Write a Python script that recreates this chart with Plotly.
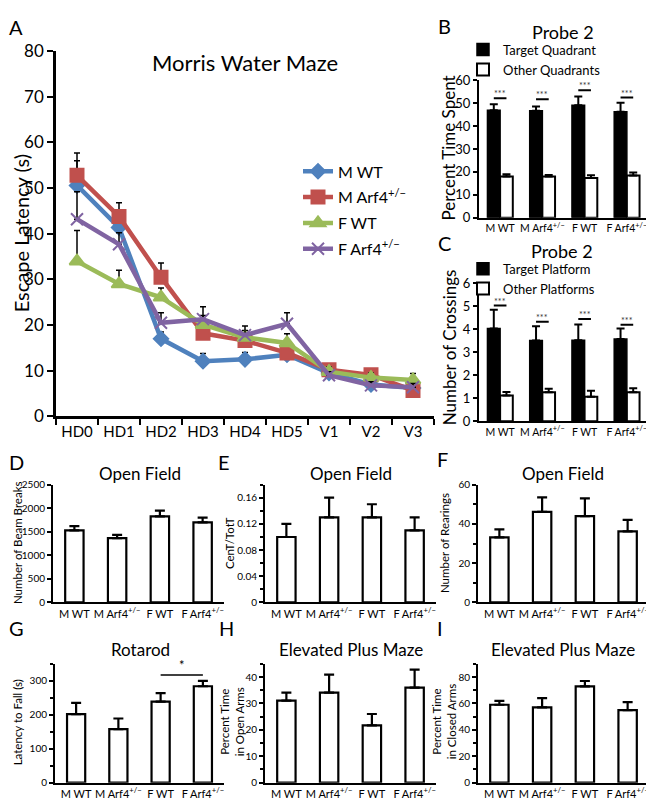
import plotly.graph_objects as go

# ---------------- data ----------------
days = ["HD0", "HD1", "HD2", "HD3", "HD4", "HD5", "V1", "V2", "V3"]
mwt = [50.6, 41.4, 17.0, 12.1, 12.5, 13.5, 9.5, 7.0, 6.2]
mwt_err = [5.4, 2.5, 1.5, 1.7, 1.5, 1.0, 1.0, 0.8, 0.8]
marf = [52.8, 43.8, 30.5, 18.2, 16.6, 13.9, 10.2, 9.1, 5.7]
marf_err = [4.9, 3.0, 3.1, 1.5, 1.5, 1.5, 1.0, 1.0, 0.8]
fwt = [34.0, 29.0, 26.1, 20.1, 17.3, 16.1, 9.8, 8.5, 8.0]
fwt_err = [6.7, 3.0, 2.0, 2.0, 1.5, 2.0, 1.0, 1.0, 1.4]
farf = [43.2, 37.7, 20.5, 21.3, 17.8, 20.3, 9.0, 6.8, 6.4]
farf_err = [6.0, 2.5, 2.2, 2.7, 2.0, 2.4, 0.8, 0.8, 0.8]
line_names = ["M WT", "M Arf4<sup>+/−</sup>", "F WT", "F Arf4<sup>+/−</sup>"]

groups = ["M WT", "M Arf4<sup>+/−</sup>", "F WT", "F Arf4<sup>+/−</sup>"]

b_target = [47.0, 46.7, 49.1, 46.3]
b_target_err = [2.6, 1.9, 3.9, 3.9]
b_other = [18.0, 18.0, 17.3, 18.4]
b_other_err = [1.0, 0.7, 1.2, 1.3]
b_sig = [52.2, 51.8, 55.7, 52.5]

c_target = [4.03, 3.50, 3.52, 3.57]
c_target_err = [0.81, 0.62, 0.68, 0.46]
c_other = [1.12, 1.26, 1.06, 1.26]
c_other_err = [0.15, 0.15, 0.27, 0.17]
c_sig = [5.02, 4.32, 4.44, 4.19]

d_vals = [1530, 1365, 1825, 1697]
d_err = [90, 68, 124, 103]
e_vals = [0.10, 0.13, 0.13, 0.11]
e_err = [0.02, 0.03, 0.02, 0.02]
e_tickvals = [0, 0.04, 0.08, 0.12, 0.16]
e_ticktext = ["0", "0.04", "0.08", "0.12", "0.16"]
f_vals = [33.1, 46.1, 44.0, 36.2]
f_err = [4.1, 7.4, 9.0, 5.8]
g_vals = [202, 158, 239, 284]
g_err = [33, 31, 25, 16]
g_sig = 317
h_vals = [31.1, 34.1, 21.7, 36.0]
h_err = [3.0, 6.8, 4.3, 6.8]
i_vals = [59, 57, 73, 55]
i_err = [3, 7, 4, 6]

# ---------------- helpers ----------------
W, H = 654, 810
OFF = 8  # page body margin offset
FF = "Lato, 'Open Sans', sans-serif"


def PX(p):
    return (p - OFF) / W


def PY(p):
    return 1 - (p - OFF) / H


fig = go.Figure()

# ---- Panel A: lines ----
colors = ["#4F81BD", "#C0504D", "#9BBB59", "#8064A2"]
symbols = ["diamond", "square", "triangle-up", "x-thin"]
msizes = [11, 13, 13, 12]
series = [(mwt, mwt_err), (marf, marf_err), (fwt, fwt_err), (farf, farf_err)]
for k, (vals, errs) in enumerate(series):
    fig.add_trace(go.Scatter(
        x=days, y=vals, name=line_names[k], mode="lines+markers",
        line=dict(color=colors[k], width=4.5),
        marker=dict(symbol=symbols[k], size=msizes[k], color=colors[k],
                    line=dict(color=colors[k], width=2)),
        error_y=dict(type="data", array=errs, arrayminus=[0] * len(errs),
                     symmetric=False, color="black", thickness=1.5, width=3),
        xaxis="x", yaxis="y", legend="legend", legendgroup=str(k)))


def err(arr, w=4, t=2):
    return dict(type="data", array=arr, arrayminus=[0] * len(arr),
                symmetric=False, color="black", thickness=t, width=w)


# ---- Panel B ----
fig.add_trace(go.Bar(x=groups, y=b_target, name="Target Quadrant",
                     marker=dict(color="black", line=dict(color="black", width=1.5)),
                     error_y=err(b_target_err, 4, 2), xaxis="x2", yaxis="y2", legend="legend2"))
fig.add_trace(go.Bar(x=groups, y=b_other, name="Other Quadrants",
                     marker=dict(color="white", line=dict(color="black", width=2)),
                     error_y=err(b_other_err, 4, 2), xaxis="x2", yaxis="y2", legend="legend2"))
# ---- Panel C ----
fig.add_trace(go.Bar(x=groups, y=c_target, name="Target Platform",
                     marker=dict(color="black", line=dict(color="black", width=1.5)),
                     error_y=err(c_target_err, 4, 2), xaxis="x3", yaxis="y3", legend="legend3"))
fig.add_trace(go.Bar(x=groups, y=c_other, name="Other Platforms",
                     marker=dict(color="white", line=dict(color="black", width=2)),
                     error_y=err(c_other_err, 4, 2), xaxis="x3", yaxis="y3", legend="legend3"))

# ---- Panels D-I ----
single = [(d_vals, d_err, 4), (e_vals, e_err, 5), (f_vals, f_err, 6),
          (g_vals, g_err, 7), (h_vals, h_err, 8), (i_vals, i_err, 9)]
for vals, errs, n in single:
    fig.add_trace(go.Bar(x=groups, y=vals, width=0.43, showlegend=False,
                         marker=dict(color="white", line=dict(color="black", width=2.2)),
                         error_y=err(errs, 5, 2.2), xaxis=f"x{n}", yaxis=f"y{n}"))

# ---------------- axes ----------------
panels = {
    1: dict(xd=(56, 434), yd=(41, 416)),
    2: dict(xd=(479, 648), yd=(71, 212)),
    3: dict(xd=(479, 648), yd=(279, 421)),
    4: dict(xd=(53, 224), yd=(486, 607)),
    5: dict(xd=(265, 436), yd=(486, 607)),
    6: dict(xd=(478, 649), yd=(486, 607)),
    7: dict(xd=(55, 224), yd=(670, 792)),
    8: dict(xd=(265, 436), yd=(670, 792)),
    9: dict(xd=(478, 649), yd=(670, 792)),
}
yspec = {
    1: dict(range=[0, 80], dtick=10, size=17),
    2: dict(range=[0, 60], dtick=10, size=13),
    3: dict(range=[0, 6], dtick=1, size=13),
    4: dict(range=[0, 2500], dtick=500, size=10),
    5: dict(range=[0, 0.18], dtick=0.04, size=10, minor=0.02,
            tv=e_tickvals, tt=e_ticktext),
    6: dict(range=[0, 60], dtick=20, size=10, minor=10),
    7: dict(range=[0, 350], dtick=100, size=10, minor=50),
    8: dict(range=[0, 45], dtick=10, size=10, minor=5),
    9: dict(range=[0, 90], dtick=20, size=10, minor=10),
}
lay = {}
for n, p in panels.items():
    sx = "" if n == 1 else str(n)
    ys = yspec[n]
    big = n == 1
    xa = dict(domain=[PX(p["xd"][0]), PX(p["xd"][1])], anchor=f"y{sx}",
              type="category", range=[-0.5, (8.5 if big else 3.5)],
              showline=True, linecolor="black", linewidth=2.5 if big else 2,
              showgrid=False, zeroline=False,
              tickfont=dict(size=15 if big else (10.5 if n in (2, 3) else 11),
                            color="black", family=FF))
    if big:
        xa.update(ticks="outside", tickson="boundaries", ticklen=6, tickwidth=2,
                  tickcolor="black")
    else:
        xa.update(ticks="")
    ya = dict(domain=[PY(p["yd"][1]), PY(p["yd"][0])], anchor=f"x{sx}",
              range=ys["range"], dtick=ys["dtick"], tick0=0,
              showline=True, linecolor="black", linewidth=2.5 if big else 2,
              showgrid=False, zeroline=False, ticks="outside",
              ticklen=6 if big else 4, tickwidth=2 if big else 1.5, tickcolor="black",
              tickfont=dict(size=ys["size"], color="black", family=FF))
    if "minor" in ys:
        ya["minor"] = dict(dtick=ys["minor"], ticks="outside", ticklen=3,
                           tickwidth=1.5, tickcolor="black", showgrid=False)
    if "tv" in ys:
        ya["tickvals"] = ys["tv"]
        ya["ticktext"] = ys["tt"]
    lay[f"xaxis{sx}"] = xa
    lay[f"yaxis{sx}"] = ya

# ---------------- annotations ----------------
ann = []


def text(x, y, s, size, angle=0, xanchor="center", color="black"):
    ann.append(dict(x=PX(x), y=PY(y), xref="paper", yref="paper", text=s,
                    showarrow=False, textangle=angle, xanchor=xanchor, yanchor="middle",
                    font=dict(size=size, color=color, family=FF)))


# panel letters
for s, x, y in [("A", 16, 16), ("B", 444, 15), ("C", 444, 238), ("D", 16, 463),
                ("E", 224, 463), ("F", 442, 460), ("G", 16, 633), ("H", 226, 633),
                ("I", 440, 633)]:
    text(x, y, s, 20)

# titles
text(245, 53, "Morris Water Maze", 22)
text(563, 21, "Probe 2", 18)
text(562, 246, "Probe 2", 18)
text(140, 475, "Open Field", 17)
text(351, 475, "Open Field", 17)
text(563, 475, "Open Field", 17)
text(140, 655, "Rotarod", 17)
text(351, 655, "Elevated Plus Maze", 17)
text(563, 655, "Elevated Plus Maze", 17)

# y axis titles
text(21, 228, "Escape Latency (s)", 20, -90)
text(449, 140, "Percent Time Spent", 17, -90)
text(449, 345, "Number of Crossings", 17, -90)
text(17, 546, "Number of Beam Breaks", 11.5, -90)
text(229, 546, "CenT/TotT", 11.5, -90)
text(444, 546, "Number of Rearings", 11.5, -90)
text(17, 730, "Latency to Fall (s)", 11.5, -90)
text(232, 730, "Percent Time<br>in Open Arms", 11.5, -90)
text(444, 730, "Percent Time<br>in Closed Arms", 11.5, -90)

# significance marks
shapes = []
for i, v in enumerate(b_sig):
    shapes.append(dict(type="line", xref="x2", yref="y2", x0=i - 0.15, x1=i + 0.15,
                       y0=v, y1=v, line=dict(color="black", width=2)))
    ann.append(dict(x=i, y=v, xref="x2", yref="y2", text="***", showarrow=False,
                    yanchor="bottom", yshift=-3, font=dict(size=9, color="#333", family=FF)))
for i, v in enumerate(c_sig):
    shapes.append(dict(type="line", xref="x3", yref="y3", x0=i - 0.15, x1=i + 0.15,
                       y0=v, y1=v, line=dict(color="black", width=2)))
    ann.append(dict(x=i, y=v, xref="x3", yref="y3", text="***", showarrow=False,
                    yanchor="bottom", yshift=-3, font=dict(size=9, color="#333", family=FF)))
shapes.append(dict(type="line", xref="x7", yref="y7", x0=2, x1=3, y0=g_sig, y1=g_sig,
                   line=dict(color="black", width=1.5)))
ann.append(dict(x=2.5, y=g_sig, xref="x7", yref="y7", text="*", showarrow=False,
                yanchor="bottom", font=dict(size=13, color="black", family=FF)))

lay.update(
    width=W, height=H, margin=dict(l=0, r=0, t=0, b=0),
    paper_bgcolor="white", plot_bgcolor="white",
    font=dict(family=FF, color="black"),
    barmode="group", bargap=0.4, bargroupgap=0,
    annotations=ann, shapes=shapes,
    legend=dict(x=PX(298), y=PY(147), xanchor="left", yanchor="top",
                font=dict(size=16, family=FF), bgcolor="rgba(0,0,0,0)",
                tracegroupgap=2, itemwidth=30),
    legend2=dict(x=PX(463), y=PY(24), xanchor="left", yanchor="top",
                 font=dict(size=13, family=FF), bgcolor="rgba(0,0,0,0)",
                 tracegroupgap=0),
    legend3=dict(x=PX(463), y=PY(249), xanchor="left", yanchor="top",
                 font=dict(size=13, family=FF), bgcolor="rgba(0,0,0,0)",
                 tracegroupgap=0),
)
fig.update_layout(**lay)
fig.write_html("out.html")
